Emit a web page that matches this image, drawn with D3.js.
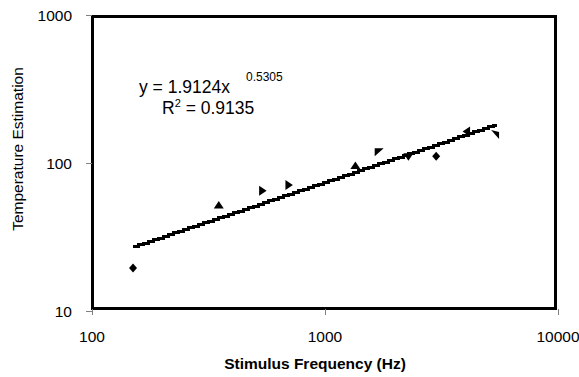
<!DOCTYPE html>
<html>
<head>
<meta charset="utf-8">
<script src="https://cdn.jsdelivr.net/npm/d3@7"></script>
<style>
  body { margin: 0; background: #fff; }
  svg { display: block; }
  text { font-family: Arial, "Liberation Sans", sans-serif; fill: #000; }
</style>
</head>
<body>
<svg id="chart" width="579" height="377"></svg>
<script>
// data
var frequencies = [150, 350, 540, 700, 1350, 1700, 2280, 3000, 4050, 5370];
var estimates   = [19.5, 52, 65, 71, 96, 118, 110, 111, 163, 157];
var markers     = ['diamond', 'up', 'right', 'right', 'up', 'cornerTL', 'down', 'diamond', 'left', 'cornerTR'];
var xTicks = [100, 1000, 10000];
var yTicks = [10, 100, 1000];
// power trendline shown on the chart: y = a * x^b
var trendA = 1.9124, trendB = 0.5305;
var trendLabel = 'y = 1.9124x', trendPower = '0.5305', rSquared = '0.9135';

var svg = d3.select('#chart');

var x = d3.scaleLog().domain([100, 10000]).range([92, 558]);
var y = d3.scaleLog().domain([10, 1000]).range([311, 15]);

// plot frame
svg.append('rect')
    .attr('x', 92.5).attr('y', 16.5)
    .attr('width', 463).attr('height', 292)
    .attr('fill', 'none').attr('stroke', '#000').attr('stroke-width', 3);

// ticks
svg.selectAll('.ytick').data(yTicks).enter().append('line')
    .attr('x1', 86).attr('x2', 92)
    .attr('y1', function (d) { return Math.round(y(d)) + 0.5; })
    .attr('y2', function (d) { return Math.round(y(d)) + 0.5; })
    .attr('stroke', '#808080');
svg.selectAll('.xtick').data(xTicks).enter().append('line')
    .attr('y1', 309).attr('y2', 315)
    .attr('x1', function (d) { return Math.round(x(d)) + 0.5; })
    .attr('x2', function (d) { return Math.round(x(d)) + 0.5; })
    .attr('stroke', '#808080');

// tick labels
svg.selectAll('.ylabel').data(yTicks).enter().append('text')
    .attr('x', 72).attr('y', function (d) { return y(d) + 5.5; })
    .attr('text-anchor', 'end').style('font-size', '15.5px')
    .text(function (d) { return d; });
svg.selectAll('.xlabel').data(xTicks).enter().append('text')
    .attr('x', function (d) { return x(d); }).attr('y', 342)
    .attr('text-anchor', 'middle').style('font-size', '15.5px')
    .text(function (d) { return d; });

// axis titles
svg.append('text')
    .attr('x', 315).attr('y', 369)
    .attr('text-anchor', 'middle')
    .style('font-size', '15.5px').style('font-weight', 'bold')
    .text('Stimulus Frequency (Hz)');
svg.append('text')
    .attr('transform', 'translate(23,149) rotate(-90)')
    .attr('text-anchor', 'middle')
    .style('font-size', '15.5px')
    .text('Temperature Estimation');

// trendline, drawn as short steps like the original raster
var x0 = x(frequencies[0]), x1 = x(frequencies[frequencies.length - 1]);
var xs = d3.range(x0, x1, 5).concat([x1]).map(function (px) { return x.invert(px); });
svg.append('path')
    .datum(xs)
    .attr('d', d3.line()
        .curve(d3.curveStepAfter)
        .x(function (d) { return x(d); })
        .y(function (d) { return y(trendA * Math.pow(d, trendB)); }))
    .attr('fill', 'none').attr('stroke', '#000').attr('stroke-width', 3)
    .attr('shape-rendering', 'crispEdges');

// markers
function markerPath(type) {
    switch (type) {
        case 'diamond': return 'M0,-4.5L4,0L0,4.5L-4,0Z';
        case 'up': return 'M0,-4L5,3.5L-5,3.5Z';
        case 'down': return 'M0,4L5,-3.5L-5,-3.5Z';
        case 'right': return 'M4,0L-3.5,5L-3.5,-5Z';
        case 'left': return 'M-4,0L3.5,5L3.5,-5Z';
        case 'cornerTL': return 'M-4,-4L5,-4L-4,4Z';
        case 'cornerTR': return 'M-4,-4L4,-2L4,5Z';
    }
}
svg.selectAll('.pt').data(frequencies).enter().append('path')
    .attr('transform', function (d, i) { return 'translate(' + x(d) + ',' + y(estimates[i]) + ')'; })
    .attr('d', function (d, i) { return markerPath(markers[i]); })
    .attr('fill', '#000');

// equation label
var eq = svg.append('g');
eq.append('text').attr('x', 139).attr('y', 93)
    .style('font-size', '17.5px').text(trendLabel);
eq.append('text').attr('x', 246).attr('y', 81)
    .style('font-size', '12px').text(trendPower);
var r2 = eq.append('text').attr('x', 162).attr('y', 114).style('font-size', '17.5px');
r2.append('tspan').text('R');
r2.append('tspan').attr('dy', -7).style('font-size', '11px').text('2');
r2.append('tspan').attr('dy', 7).text(' = ' + rSquared);
</script>
</body>
</html>
